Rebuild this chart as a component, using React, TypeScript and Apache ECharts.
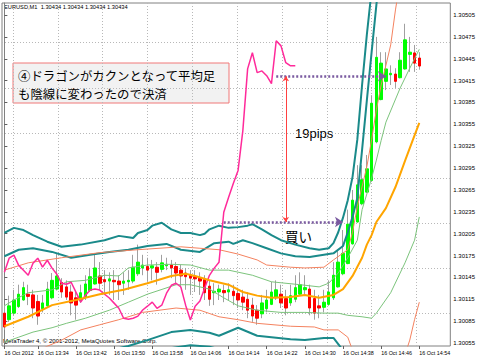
import React, { useEffect, useRef } from "react";
import * as echarts from "echarts";

// ---------- axis / tick data ----------
const categories: string[] = (() => {
  const a: string[] = [];
  for (let m = 13 * 60 + 27; m <= 15 * 60; m++) {
    a.push(`${Math.floor(m / 60)}:${String(m % 60).padStart(2, "0")}`);
  }
  return a;
})();
const priceTicks = [1.30055, 1.30085, 1.30115, 1.30145, 1.30175, 1.30205, 1.30235, 1.30265, 1.30295, 1.30325, 1.30355, 1.30385, 1.30415, 1.30445, 1.30475, 1.30505];
const gridPriceLines = [1.30096, 1.30158, 1.3022, 1.30281, 1.30343, 1.30405, 1.30467];
const gridTimeLines = [1.8, 11.2, 20.6, 30, 39.4, 48.8, 58.2, 67.6, 77, 86.4];
const Y_MIN = 1.300509;
const Y_MAX = 1.305215;
const currentPrice = 1.30434;
const entryPrice = 1.30221;
const exitPrice = 1.30421;

// ---------- Heikin-Ashi candles (from 13:27) ----------
const haOpen = [1.30096,1.30087,1.30096,1.30105,1.30114,1.30122,1.30121,1.30112,1.30102,1.30106,1.30117,1.30129,1.30138,1.30132,1.30125,1.30117,1.30113,1.30118,1.30127,1.30136,1.30147,1.30142,1.3014,1.30141,1.3014,1.30137,1.30139,1.3014,1.3015,1.30158,1.3016,1.30158,1.30159,1.30156,1.30161,1.30162,1.3016,1.30155,1.30151,1.30148,1.30146,1.30144,1.30142,1.30133,1.30124,1.30125,1.30127,1.30125,1.30126,1.30123,1.30118,1.30115,1.30107,1.301,1.30095,1.30102,1.30108,1.30117,1.30122,1.30116,1.3011,1.30115,1.30122,1.30128,1.30129,1.30116,1.30106,1.30104,1.30108,1.30117,1.30132,1.3015,1.30164,1.30191,1.30221,1.30246,1.30262,1.30278,1.30331,1.30389,1.30414,1.30423,1.30424,1.30419,1.30431,1.30451,1.30453,1.30446];
const haClose = [1.30077,1.30106,1.30114,1.30122,1.30131,1.30119,1.30103,1.30092,1.3011,1.30129,1.30141,1.30147,1.30125,1.30118,1.3011,1.30107,1.30124,1.30136,1.30146,1.30158,1.30137,1.30139,1.30143,1.30139,1.30135,1.3014,1.30141,1.30159,1.30166,1.30162,1.30155,1.30161,1.30152,1.30165,1.30163,1.30158,1.30151,1.30147,1.30146,1.30144,1.30143,1.3014,1.30124,1.30115,1.30126,1.30129,1.30124,1.30128,1.3012,1.30114,1.30111,1.301,1.30092,1.30089,1.3011,1.30114,1.30125,1.30128,1.3011,1.30103,1.3012,1.30131,1.30135,1.30131,1.30103,1.30096,1.30103,1.30111,1.30125,1.30148,1.30166,1.30178,1.30218,1.30251,1.30272,1.30279,1.30294,1.30384,1.30447,1.30439,1.30431,1.30425,1.30414,1.30443,1.30471,1.30454,1.30439,1.30435];
const haHigh = [1.30107,1.3012,1.30128,1.30135,1.30139,1.30135,1.30128,1.30121,1.30121,1.30139,1.30151,1.30177,1.30144,1.30141,1.30135,1.30125,1.30135,1.30148,1.30158,1.30176,1.30166,1.30155,1.30152,1.30155,1.30148,1.30152,1.30155,1.30176,1.3019,1.30176,1.30172,1.30169,1.30166,1.30176,1.30172,1.30169,1.30166,1.30162,1.30158,1.30155,1.30155,1.30152,1.30148,1.30141,1.30137,1.30135,1.30135,1.30137,1.30135,1.30131,1.30128,1.30125,1.30117,1.30107,1.30121,1.30128,1.30139,1.30141,1.30135,1.30128,1.30135,1.30148,1.30152,1.30148,1.30135,1.30128,1.30121,1.30128,1.30141,1.30166,1.30183,1.3021,1.30238,1.30265,1.30299,1.30299,1.30313,1.30395,1.30475,1.30454,1.30454,1.30436,1.30432,1.30454,1.30493,1.30475,1.30464,1.30454];
const haLow = [1.30073,1.30084,1.30093,1.30103,1.30113,1.30107,1.30089,1.3008,1.30097,1.30104,1.30115,1.30127,1.30117,1.30114,1.30093,1.30087,1.3011,1.30114,1.30125,1.30135,1.30128,1.30121,1.30121,1.30114,1.30114,1.30121,1.30128,1.30137,1.30147,1.30148,1.30139,1.30141,1.30135,1.30152,1.30155,1.30144,1.30135,1.30131,1.30128,1.30121,1.30125,1.30121,1.30114,1.30106,1.30107,1.30114,1.30111,1.30114,1.30107,1.30103,1.301,1.30089,1.30084,1.3008,1.30089,1.30097,1.30107,1.30114,1.30103,1.30093,1.30106,1.30111,1.3012,1.30121,1.30093,1.30087,1.30089,1.30097,1.30106,1.30114,1.30131,1.30148,1.30163,1.3019,1.3022,1.30244,1.30261,1.30276,1.30329,1.30388,1.30402,1.30409,1.30405,1.30418,1.3043,1.30427,1.30427,1.3043];

// ---------- band lines: [bar index, price] ----------
const centerLine = [[0,1.30078],[5,1.30091],[10,1.30107],[15,1.30114],[20,1.30122],[25,1.30128],[30,1.30137],[35,1.30147],[38,1.3015],[40,1.30147],[43,1.30141],[47,1.30135],[50,1.30125],[53,1.3012],[56,1.30117],[60,1.30118],[63,1.30121],[66,1.30117],[69,1.30121],[71,1.30129],[73,1.30147],[75,1.30172],[76,1.3019],[77,1.30203],[78,1.30221],[80,1.3024],[82,1.30269],[84,1.30305],[86,1.3034],[87,1.30357]];
const upperGreen = [[0,1.30106],[2,1.30114],[5,1.30124],[10,1.30128],[13,1.30139],[17,1.30141],[21,1.30148],[24,1.30147],[26,1.30158],[30,1.30162],[35,1.30163],[39,1.30162],[43,1.30155],[47,1.30155],[52,1.30148],[56,1.30139],[62,1.30135],[66,1.30132],[68,1.30137],[70,1.30151],[72,1.30172],[74,1.30196],[75,1.30238],[77,1.30281],[78,1.30306],[79,1.30333],[80,1.30358],[83,1.30405],[85,1.30432],[87,1.30458]];
const lowerGreen = [[0,1.30056],[3,1.30063],[6,1.3007],[10,1.30076],[13,1.30082],[17,1.30089],[22,1.301],[26,1.30111],[30,1.30122],[36,1.30135],[39,1.30135],[43,1.30129],[46,1.30117],[49,1.30106],[53,1.301],[58,1.30097],[63,1.30097],[67,1.30096],[70,1.30096],[72,1.30093],[75,1.30091],[77,1.30089],[78,1.30096],[81,1.30124],[84,1.30165],[86,1.30196],[87,1.30228]];
const upperSalmon = [[0,1.30155],[5,1.30165],[12,1.30172],[20,1.30179],[28,1.30183],[37,1.30187],[41,1.30185],[45,1.30183],[49,1.30177],[53,1.30169],[55,1.30162],[60,1.30159],[63,1.30158],[67,1.30159],[69,1.30169],[72,1.30183],[73,1.30207],[74,1.30242],[76,1.30297],[77,1.30334],[78,1.30375],[79,1.30409],[80,1.30436],[81,1.30464],[82,1.30512],[83,1.30553]];
const lowerSalmon = [[0,1.30032],[7,1.30045],[12,1.30059],[16,1.30073],[20,1.3008],[24,1.30087],[29,1.30097],[36,1.30103],[41,1.301],[45,1.30091],[49,1.30087],[53,1.30082],[60,1.30078],[65,1.30077],[67,1.30073],[70,1.30073],[72,1.30063],[73,1.30045],[74,1.30025],[75,1.2999],[78,1.29977],[82,1.30004],[84,1.30039],[85,1.30059],[86,1.30087],[87,1.30111]];
const upperTealOuter = [[0,1.30206],[2,1.30213],[4,1.3021],[6,1.30203],[9,1.30194],[12,1.30187],[16,1.3019],[21,1.30196],[24,1.30202],[26,1.302],[27,1.30199],[28,1.30206],[30,1.3021],[31,1.30216],[33,1.3022],[35,1.30211],[37,1.30206],[39,1.30206],[41,1.30203],[42,1.30205],[43,1.30211],[45,1.30216],[47,1.30213],[49,1.30214],[51,1.30216],[52,1.30218],[54,1.30211],[56,1.30203],[58,1.30196],[61,1.3019],[64,1.30185],[66,1.30183],[68,1.30185],[69,1.30192],[70,1.30207],[71,1.30227],[72,1.30251],[73,1.30283],[74,1.30334],[75,1.30409],[76,1.30478],[77,1.30539],[78,1.30594]];
const upperTealInner = [[0,1.30174],[3,1.30183],[6,1.30185],[10,1.3018],[14,1.30172],[18,1.30176],[22,1.3018],[26,1.30183],[30,1.30188],[34,1.30191],[37,1.30183],[41,1.3018],[44,1.30192],[47,1.30194],[48,1.30191],[50,1.30196],[52,1.30192],[55,1.30185],[58,1.30178],[61,1.30174],[64,1.30173],[67,1.30176],[69,1.30178],[71,1.30188],[72,1.30207],[73,1.30228],[74,1.30254],[75,1.3032],[76,1.30388],[77,1.30454],[78,1.30519],[79,1.3058]];
const lowerTealInner = [[0,1.30018],[10,1.30025],[18,1.30039],[22,1.30045],[26,1.30051],[30,1.30059],[35,1.3007],[39,1.30073],[43,1.30069],[45,1.30065],[49,1.30076],[53,1.30065],[60,1.3006],[63,1.30059],[67,1.30062],[69,1.30062],[71,1.30045],[72,1.30018],[74,1.29949]];
const lowerTealOuter = [[0,1.2999],[20,1.30018],[30,1.30039],[35,1.30048],[39,1.30052],[43,1.3005],[47,1.30043],[53,1.30039],[61,1.30034],[68,1.30039],[71,1.30018],[73,1.29949]];

// ---------- overlaid oscillator (0-100 scale) ----------
const oscillator = [21.5,25.6,26.5,23.5,22.1,20.6,24.1,25.6,23.0,25.0,22.7,20.9,18.3,18.0,18.6,15.7,12.8,14.8,16.3,16.6,16.3,15.1,14.0,12.5,11.0,8.1,7.8,8.1,8.7,10.5,11.6,12.8,11.0,11.9,15.4,17.7,18.3,17.2,11.9,7.6,11.6,13.1,16.9,20.6,22.7,24.4,39.0,43.3,47.4,51.2,62.8,80.8,85.5,79.7,80.2,78.8,76.5,89.0,87.5,82.6,81.7,81.7];

// ---------- trade annotation positions (bar index) ----------
const entryFrom = 46, entryTo = 71, exitFrom = 57, exitTo = 80, arrowBar = 59;

const FONT = '"Liberation Sans", Arial, sans-serif';
const JP = '"Noto Sans CJK JP", sans-serif';

const labelInterval = (idx: number) => idx === 0 || (idx >= 7 && (idx - 7) % 8 === 0);

function lineSeries(name: string, data: number[][], color: string, width: number) {
  return {
    name, type: "line", data, xAxisIndex: 0, yAxisIndex: 0,
    showSymbol: false, symbol: "none", smooth: false, clip: true,
    lineStyle: { color, width }, silent: true,
  };
}

export default function App() {
  const ref = useRef<HTMLDivElement>(null);
  useEffect(() => {
    const chart = echarts.init(ref.current!, null, { renderer: "svg" });
    const wickData = haOpen.map((o, i) => [o, haClose[i], haLow[i], haHigh[i]]);
    const bodyData = haOpen.map((o, i) => [o, haClose[i], Math.min(o, haClose[i]), Math.max(o, haClose[i])]);
    const purple = { color: "#7a5aa0", type: [2, 2], width: 2.5 };
    const red = { color: "#ff4040", type: "solid", width: 1 };
    const option: any = {
      animation: false,
      backgroundColor: "#ffffff",
      grid: { left: 2, right: 26, top: 3, bottom: 14, show: true, borderColor: "#808080", borderWidth: 1, backgroundColor: "#ffffff" },
      xAxis: [
        {
          type: "category", data: categories, boundaryGap: true,
          axisLine: { show: false },
          axisTick: { show: true, alignWithLabel: true, interval: labelInterval, length: 3, lineStyle: { color: "#606060" } },
          axisLabel: {
            interval: labelInterval, align: "left", fontSize: 5.4, color: "#000", fontFamily: FONT, margin: 4,
            formatter: (v: string, idx: number) => (idx === 0 ? "16 Oct 2012" : "16 Oct " + v),
          },
          splitLine: { show: false },
        },
        {
          type: "value", min: -0.5, max: 93.5,
          axisLine: { show: false }, axisLabel: { show: false },
          axisTick: { show: false, customValues: gridTimeLines },
          splitLine: { show: true, customValues: gridTimeLines, lineStyle: { color: "#b8b8b8", type: [1, 2], width: 1 } },
        },
      ],
      yAxis: [
        {
          type: "value", position: "right", min: Y_MIN, max: Y_MAX,
          axisLine: { show: true, lineStyle: { color: "#808080" } },
          axisTick: { show: true, length: 3, customValues: priceTicks, lineStyle: { color: "#606060" } },
          axisLabel: { customValues: priceTicks, formatter: (v: number) => v.toFixed(5), fontSize: 6, color: "#000", fontFamily: FONT, margin: 3 },
          splitLine: { show: false },
        },
        {
          type: "value", min: Y_MIN, max: Y_MAX, position: "right",
          axisLine: { show: false }, axisLabel: { show: false },
          axisTick: { show: false, customValues: gridPriceLines },
          splitLine: { show: true, customValues: gridPriceLines, lineStyle: { color: "#b8b8b8", type: [1, 2], width: 1 } },
        },
        { type: "value", min: 0, max: 100, show: false },
      ],
      series: [
        lineSeries("upperTealOuter", upperTealOuter, "#1a8a8a", 2),
        lineSeries("upperTealInner", upperTealInner, "#1a8a8a", 2),
        lineSeries("lowerTealInner", lowerTealInner, "#1a8a8a", 2),
        lineSeries("lowerTealOuter", lowerTealOuter, "#1a8a8a", 2),
        lineSeries("upperSalmon", upperSalmon, "#f4825f", 1),
        lineSeries("lowerSalmon", lowerSalmon, "#f4825f", 1),
        lineSeries("upperGreen", upperGreen, "#7cc47c", 1),
        lineSeries("lowerGreen", lowerGreen, "#7cc47c", 1),
        {
          name: "wicks", type: "candlestick", data: wickData, barWidth: 1, silent: true,
          itemStyle: { color: "#a0a0a0", color0: "#a0a0a0", borderColor: "#a0a0a0", borderColor0: "#a0a0a0", borderColorDoji: "#a0a0a0", borderWidth: 1 },
        },
        {
          name: "bodies", type: "candlestick", data: bodyData, barWidth: 3, silent: true,
          itemStyle: { color: "#00ff00", color0: "#ff0000", borderColor: "#00ff00", borderColor0: "#ff0000", borderColorDoji: "#00ff00", borderWidth: 1 },
          markLine: {
            silent: true, symbol: ["none", "none"], animation: false,
            lineStyle: { color: "#c8c8c8", type: "solid", width: 1 },
            label: {
              show: true, position: "end", distance: 1, formatter: currentPrice.toFixed(5),
              color: "#ffffff", backgroundColor: "#000000", fontSize: 6, fontFamily: FONT, padding: [1, 2, 1, 2],
            },
            data: [{ yAxis: currentPrice }],
          },
        },
        {
          name: "oscillator", type: "line", data: oscillator, xAxisIndex: 0, yAxisIndex: 2,
          showSymbol: false, symbol: "none", lineStyle: { color: "#ff2a9a", width: 1.5 }, silent: true,
        },
        {
          ...lineSeries("center", centerLine, "#ffa500", 2),
          markLine: {
            silent: true, animation: false, symbol: ["none", "none"],
            label: { show: false },
            data: [
              [
                { coord: [entryFrom, entryPrice], symbol: "none", lineStyle: purple },
                { coord: [entryTo, entryPrice], symbol: "arrow", symbolSize: 8 },
              ],
              [
                { coord: [exitFrom, exitPrice], symbol: "none", lineStyle: purple },
                { coord: [exitTo, exitPrice], symbol: "arrow", symbolSize: 8 },
              ],
              [
                { coord: [arrowBar, exitPrice], symbol: "arrow", symbolSize: 5, lineStyle: red },
                { coord: [arrowBar, entryPrice], symbol: "arrow", symbolSize: 5 },
              ],
            ],
          },
        },
      ],
      graphic: [
        { type: "text", left: 4, top: 4, style: { text: "EURUSD,M1  1.30434 1.30434 1.30434 1.30434", fontSize: 5.7, fill: "#000", fontFamily: FONT } },
        { type: "text", left: 3, top: 337, style: { text: "MetaTrader 4, © 2001-2012, MetaQuotes Software Corp.", fontSize: 6.1, fill: "#000", fontFamily: FONT } },
        { type: "rect", shape: { x: 13, y: 63, width: 216, height: 40 }, style: { fill: "#f2f2f2", stroke: "#f07878", lineWidth: 1 } },
        { type: "text", x: 18, y: 76.2, style: { text: "④ドラゴンがカクンとなって平均足", fontSize: 12.4, fill: "#000", fontFamily: JP, verticalAlign: "middle" } },
        { type: "text", x: 18, y: 94.4, style: { text: "も陰線に変わったので決済", fontSize: 12.4, fill: "#000", fontFamily: JP, verticalAlign: "middle" } },
        { type: "text", x: 295, y: 133, style: { text: "19pips", fontSize: 13, fill: "#000", fontFamily: FONT, verticalAlign: "middle" } },
        { type: "text", x: 285, y: 236, style: { text: "買い", fontSize: 13.5, fill: "#000", fontFamily: JP, verticalAlign: "middle" } },
      ],
    };
    chart.setOption(option);
    return () => chart.dispose();
  }, []);
  return <div ref={ref} style={{ position: "fixed", left: 0, top: 0, width: 478, height: 360 }} />;
}
